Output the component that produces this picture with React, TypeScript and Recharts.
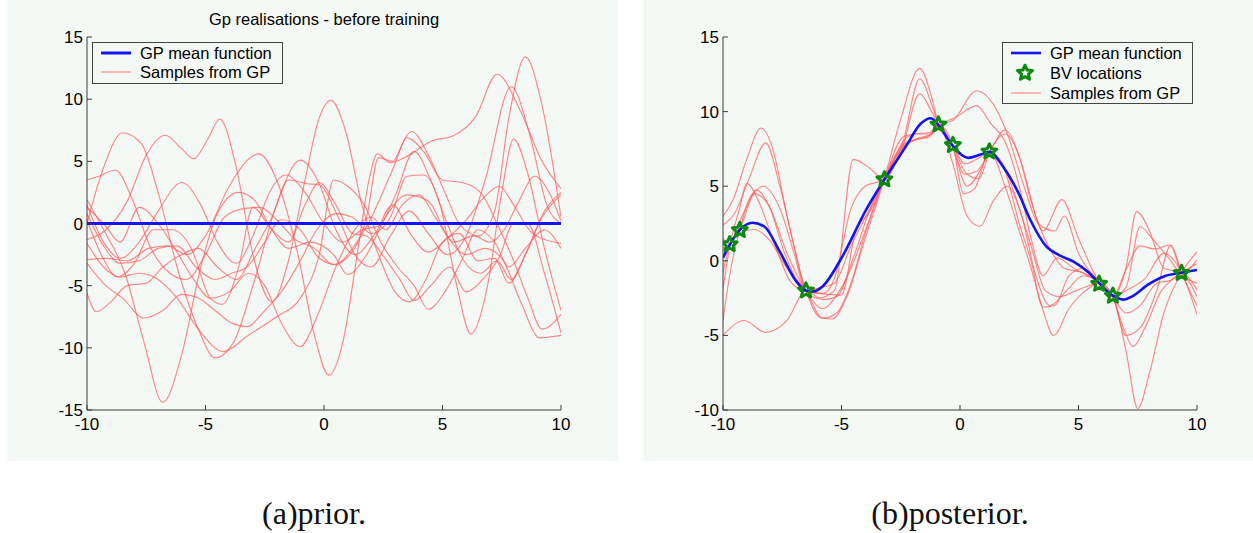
import React from 'react';
import { ComposedChart, Line, Scatter, XAxis, YAxis } from 'recharts';

type P = [number, number];

const X_TICKS = [-10, -5, 0, 5, 10];
const PRIOR_Y_TICKS = [-15, -10, -5, 0, 5, 10, 15];
const POST_Y_TICKS = [-10, -5, 0, 5, 10, 15];
const PRIOR_Y_DOMAIN: [number, number] = [-15, 15];
const POST_Y_DOMAIN: [number, number] = [-10, 15];

const PRIOR_TITLE = 'Gp realisations - before training';
const CAPTION_A = '(a)prior.';
const CAPTION_B = '(b)posterior.';
const LEGEND_MEAN = 'GP mean function';
const LEGEND_BV = 'BV locations';
const LEGEND_SAMPLES = 'Samples from GP';

// ---- prior (left panel) ----
const priorMean: P[] = [[-10, 0], [10, 0]];
const prior01: P[] = [[-10,1.9],[-9.3,-0.5],[-8.4,-4],[-7.6,-9.5],[-6.8,-14.4],[-6.0,-10.5],[-5.2,-3.5],[-4.5,0.8],[-3.6,2.5],[-2.9,1.8],[-2.2,-0.5],[-1.5,-2],[-0.6,-1.5],[0.4,-2.5],[1.0,-4.1],[1.8,-2.5],[2.6,0.5],[3.5,2.3],[4.4,1.8],[5.2,-1.0],[6.0,-2.5],[6.8,-2.0],[7.5,-2.8],[8.3,-6.3],[9.1,-9.2],[10,-9.0]];
const prior02: P[] = [[-10,0],[-9.3,4.5],[-8.5,7.3],[-7.7,6.4],[-7.0,2.5],[-6.2,-3.5],[-5.3,-8.5],[-4.6,-10.8],[-3.8,-9.5],[-3.0,-5],[-2.0,1.5],[-1.0,5.1],[-0.2,3.2],[0.5,-0.5],[1.3,-2.5],[2.1,-1],[2.9,1.5],[3.7,-1],[4.4,-2.3],[5.2,-1.2],[6.0,0.3],[6.8,2.2],[7.4,3.0],[8.0,1.5],[8.8,-0.8],[10,-1.6]];
const prior03: P[] = [[-10,-1.3],[-9.2,-0.5],[-8.3,1.8],[-7.5,5.5],[-6.7,7.1],[-6.0,6.0],[-5.5,5.2],[-4.9,6.8],[-4.4,8.4],[-3.7,4.5],[-3.0,-2.5],[-2.2,-6.3],[-1.5,-3],[-0.8,3.5],[-0.2,8.5],[0.3,9.9],[0.9,7.5],[1.6,1.5],[2.4,-3],[3.0,-5.5],[3.6,-6.3],[4.3,-4.5],[5.0,-1.5],[5.7,-0.8],[6.5,-3],[7.2,-2.8],[7.8,-4.8],[8.5,-2.5],[9.3,1],[10,2.5]];
const prior04: P[] = [[-10,3.5],[-9.5,3.8],[-8.8,4.3],[-8.1,2],[-7.3,-2],[-6.5,-4],[-5.8,-4.5],[-5.0,-2.5],[-4.2,0.5],[-3.4,1.2],[-2.7,1.3],[-2.0,0.3],[-1.2,-1.3],[-0.4,-2],[0.4,-3.3],[1.1,-2.5],[1.8,0.5],[2.3,5.3],[2.9,5.0],[3.5,6.9],[4.2,5.8],[5.0,3.5],[5.8,3.3],[6.6,2.5],[7.3,0],[8.0,-3],[8.6,-6],[9.2,-8.5],[10,-7.3]];
const prior05: P[] = [[-10,-2.9],[-9.2,-2.8],[-8.3,-3],[-7.4,-2],[-6.6,-1.8],[-5.8,-2.5],[-5.0,-1],[-4.0,3.0],[-2.75,5.6],[-1.9,3.0],[-1.1,-2.5],[-0.4,-9],[0.2,-12.2],[0.8,-9.5],[1.4,-2.5],[1.9,3.5],[2.25,5.6],[2.8,4.9],[3.5,5.4],[4.5,6.6],[5.5,7.1],[6.4,8.6],[7.3,12.0],[8.3,9.0],[9.2,5.0],[10,2.8]];
const prior06: P[] = [[-10,0.8],[-9.3,-1.8],[-8.6,-3.2],[-7.8,-3.0],[-7.0,-2.0],[-6.2,-1.8],[-5.4,-3.5],[-4.6,-4.5],[-3.9,-4.0],[-3.25,-3.5],[-2.5,-1.5],[-1.8,0.3],[-1.0,-0.5],[-0.2,-2.8],[0.5,-3.3],[1.2,-2.0],[2.0,0.5],[2.8,3.9],[3.7,7.4],[4.4,5.5],[5.1,2.5],[5.7,0],[6.5,-1],[7.2,1],[7.8,8.5],[8.5,13.4],[9.2,9.5],[10,0.5]];
const prior07: P[] = [[-10,-5.6],[-9.6,-7.1],[-9.0,-6.3],[-8.3,-5.0],[-7.5,-4.8],[-6.8,-3.5],[-6.0,-2.5],[-5.3,-2.0],[-4.5,-3.5],[-3.7,-4.5],[-2.9,-2.0],[-2.2,0.5],[-1.5,3.5],[-0.7,3.2],[-0.2,3.1],[0.6,0.5],[1.3,-2.5],[2.0,-3.5],[2.8,-1.0],[3.6,1.0],[4.4,-0.8],[5.2,-2.5],[6.0,-1.0],[6.8,3.5],[7.9,11.0],[8.7,7.0],[9.4,1.5],[10,0]];
const prior08: P[] = [[-10,-3.2],[-9.2,-5.0],[-8.5,-6.0],[-7.6,-7.6],[-6.8,-7.0],[-6.0,-5.7],[-5.3,-6.0],[-4.6,-7.0],[-3.9,-8.0],[-3.25,-8.3],[-2.5,-7.0],[-1.8,-5.5],[-1.0,-3.0],[-0.3,-0.5],[0.5,0.8],[1.2,0.5],[2.0,-0.8],[2.8,0.5],[3.5,3.8],[4.2,3.9],[4.9,1.5],[5.6,-5],[6.2,-8.9],[6.9,-5],[7.5,2.5],[8.0,6.8],[8.6,4],[9.3,-2],[10,-7.0]];
const prior09: P[] = [[-10,1.3],[-9.3,0],[-8.6,-1.5],[-7.8,1.3],[-7.0,0],[-6.3,-2],[-5.5,-4.5],[-4.8,-6],[-4.0,-5.5],[-3.2,-4.0],[-2.5,-5],[-1.8,-8],[-1.0,-9.9],[-0.3,-7.5],[0.5,-3.5],[1.3,-0.5],[2.0,0.5],[2.6,-0.5],[3.3,1.5],[4.0,2.3],[4.7,0.5],[5.5,-1.5],[6.3,-1.0],[7.0,-1.5],[7.6,-0.5],[8.2,1.7],[8.9,3.8],[9.5,2.5],[10,0.2]];
const prior10: P[] = [[-10,-1.6],[-9.3,-3.5],[-8.6,-4.3],[-7.8,-4.0],[-7.0,-4.5],[-6.2,-6.0],[-5.3,-8.5],[-4.25,-10.3],[-3.2,-9.0],[-2.0,-7.5],[-1.0,-6.0],[-0.2,-2.5],[0.4,3.5],[1.0,3.0],[1.7,1.5],[2.4,-1.5],[3.1,-3.5],[3.8,-5],[4.4,-6.9],[5.1,-5.5],[5.8,-3.0],[6.5,-0.5],[7.2,-1.5],[7.8,-3.5],[8.5,-2.0],[9.3,-0.5],[10,-2.0]];
const prior11: P[] = [[-10,1.5],[-9.3,-1.5],[-8.6,-2.8],[-7.8,-1.5],[-7.0,1.0],[-6.0,3.3],[-5.2,1.5],[-4.5,-1.5],[-3.7,-3.2],[-3.0,-1.0],[-2.3,2.5],[-1.6,3.9],[-0.8,2.5],[0,0],[0.8,-1.5],[1.6,-0.5],[2.3,-0.2],[3.0,2.2],[3.8,5.8],[4.5,3.5],[5.2,0],[5.9,-3.0],[6.6,-4.0],[7.3,-3.0],[7.9,-4.5],[8.5,-2.5],[9.2,0.5],[10,2.3]];
const prior12: P[] = [[-10,0.3],[-9.4,-2.5],[-8.7,-4.3],[-8.0,-3.2],[-7.2,-0.5],[-6.4,-0.5],[-5.6,-2],[-4.8,-6.0],[-4.3,-6.5],[-3.6,-3.5],[-3.0,1.3],[-2.2,-0.5],[-1.5,-1.5],[-0.8,1.5],[-0.2,3.3],[0.5,1.5],[1.2,-0.8],[1.8,-1.0],[2.5,-2.6],[3.2,-4.5],[3.8,-6.2],[4.5,-5],[5.3,-3.5],[6.0,-5.5],[6.7,-4.5],[7.4,-2.7],[8.0,0],[8.6,0],[9.3,-4],[10,-8.8]];

// ---- posterior (right panel) ----
const postMean: P[] = [[-10,0.2],[-9.72,1.07],[-9.29,2.07],[-8.76,2.55],[-8.26,2.3],[-7.6,0.6],[-6.94,-1.3],[-6.5,-2.0],[-6.2,-2.05],[-5.79,-1.7],[-4.96,0.3],[-3.97,3.4],[-3.19,5.45],[-2.31,7.6],[-1.65,9.2],[-1.24,9.55],[-0.91,9.1],[-0.33,7.75],[0.35,6.9],[0.83,7.1],[1.24,7.3],[1.82,6.3],[2.48,4.5],[2.98,2.7],[3.64,0.96],[4.22,0.35],[4.79,-0.05],[5.45,-0.82],[5.87,-1.5],[6.45,-2.34],[6.89,-2.6],[7.27,-2.38],[7.93,-1.6],[8.6,-1.05],[9.34,-0.8],[10,-0.62]];
const bvLocations: P[] = [[-9.72,1.1],[-9.29,2.05],[-6.5,-2.0],[-3.19,5.45],[-0.91,9.12],[-0.3,7.75],[1.24,7.32],[5.87,-1.55],[6.45,-2.35],[9.35,-0.82]];
const post01: P[] = [[-10,-5.0],[-9.1,-4.0],[-8.2,-4.8],[-7.3,-4.0],[-6.5,-2.0],[-5.8,-2.6],[-5.2,-2.4],[-4.5,0.2],[-3.9,3.0],[-3.2,5.45],[-2.4,7.6],[-1.9,8.1],[-1.3,8.3],[-0.9,9.1],[-0.3,7.7],[0.15,4.5],[0.6,4.8],[1.25,7.3],[1.9,5.0],[2.5,2.0],[3.0,-0.5],[3.5,-3.3],[3.95,-5.0],[4.6,-3.2],[5.3,-2.0],[5.9,-1.5],[6.45,-2.4],[6.9,-4.5],[7.3,-5.75],[7.8,-4.5],[8.5,-2.0],[9.0,-1.2],[9.35,-0.8],[10,-1.95]];
const post02: P[] = [[-10,3.0],[-9.6,4.0],[-9.0,6.8],[-8.4,8.9],[-7.9,7.5],[-7.3,3.0],[-6.5,-2.0],[-5.9,-3.8],[-5.4,-3.9],[-4.8,-2.5],[-4.0,1.5],[-3.2,5.45],[-2.5,9.5],[-1.7,12.9],[-1.2,11.0],[-0.9,9.1],[-0.3,7.8],[0.2,6.5],[0.7,6.8],[1.25,7.3],[1.8,6.5],[2.3,4.5],[3.0,1.0],[3.6,-2.0],[4.2,-2.4],[4.9,-2.0],[5.9,-1.5],[6.45,-2.4],[7.0,-6],[7.5,-9.9],[8.0,-7.5],[8.6,-3.5],[9.35,-0.8],[10,0.6]];
const post03: P[] = [[-10,2.4],[-9.5,3.2],[-8.9,5.5],[-8.2,7.9],[-7.6,5],[-7.0,1],[-6.5,-2.0],[-6.0,-2.5],[-5.3,-2.0],[-4.5,6.8],[-3.8,6.2],[-3.2,5.45],[-2.4,8.0],[-1.7,12.2],[-1.2,10.5],[-0.9,9.1],[-0.3,7.7],[0.3,5.8],[0.8,5.5],[1.25,7.3],[1.9,8.5],[2.5,7],[3.0,4],[3.5,2.0],[4.3,4.1],[5.0,1.5],[5.9,-1.5],[6.45,-2.4],[7.0,-2.0],[7.8,-1.2],[8.6,0.5],[9.35,-0.8],[10,-3.6]];
const post04: P[] = [[-10,-1.9],[-9.7,1.1],[-9.3,3.5],[-9.0,5.2],[-8.5,4.0],[-7.8,1.0],[-7.1,-1.5],[-6.5,-2.0],[-5.9,-1.8],[-5.3,-1.5],[-4.6,1.0],[-3.9,3.2],[-3.2,5.45],[-2.5,7.2],[-1.7,11.2],[-1.2,10.0],[-0.9,9.1],[-0.3,7.6],[0.2,5.8],[0.7,6.0],[1.25,7.3],[1.9,8.77],[2.6,6.5],[3.2,3.0],[3.9,0.5],[4.4,-0.5],[5.2,-0.8],[5.9,-1.5],[6.45,-2.4],[7.0,-0.5],[7.45,3.3],[8.0,2.0],[8.6,-0.5],[9.35,-0.8],[10,-2.4]];
const post05: P[] = [[-10,0.2],[-9.7,1.1],[-9.2,2.5],[-8.6,4.75],[-8.0,3.5],[-7.3,0.5],[-6.5,-2.0],[-5.8,-3.2],[-5.2,-2.3],[-4.6,-0.5],[-4.0,2.0],[-3.2,5.45],[-2.4,8.3],[-1.9,8.5],[-1.3,8.6],[-0.9,9.1],[-0.2,9.6],[0.7,10.4],[1.3,9.2],[1.9,8.0],[2.5,5],[3.0,1.5],[3.5,-1.0],[4.1,0.2],[4.8,-0.5],[5.9,-1.5],[6.45,-2.4],[7.0,-1.8],[7.6,2.3],[8.1,1.5],[8.8,0.2],[9.35,-0.8],[10,0.06]];
const post06: P[] = [[-10,1.5],[-9.7,1.1],[-9.2,3.0],[-8.3,5.0],[-7.6,3.5],[-7.0,0.5],[-6.5,-2.0],[-5.8,-2.2],[-5.3,-1.2],[-4.6,3.5],[-4.0,5.0],[-3.2,5.45],[-2.4,8.0],[-1.9,8.5],[-1.3,8.5],[-0.9,9.1],[-0.3,9.4],[0.7,11.4],[1.4,10.5],[2.0,8.5],[2.7,5.0],[3.3,2.5],[4.0,2.0],[4.4,3.0],[5.0,0.5],[5.9,-1.5],[6.45,-2.4],[7.0,-5.0],[7.6,-4.5],[8.3,-2.0],[8.9,1.06],[9.35,-0.8],[10,-3.0]];
const post07: P[] = [[-10,-0.8],[-9.7,1.1],[-9.2,1.9],[-8.7,2.1],[-8.1,1.5],[-7.3,-0.5],[-6.5,-2.0],[-5.8,-3.85],[-5.2,-3.5],[-4.6,-1.5],[-4.0,1.8],[-3.2,5.45],[-2.4,7.8],[-1.9,8.1],[-1.3,8.4],[-0.9,9.1],[-0.3,6.5],[0.3,3.0],[0.84,2.3],[1.4,4.0],[2.0,5.0],[2.6,3.0],[3.2,-1.0],[3.8,-3.0],[4.5,-2.0],[5.2,-1.0],[5.9,-1.5],[6.45,-2.4],[7.0,-3.5],[7.6,-3.0],[8.3,-1.5],[8.9,-1.3],[9.35,-0.8],[10,-0.2]];
const post08: P[] = [[-10,-4.0],[-9.7,-0.8],[-9.3,2.05],[-8.7,4.5],[-8.1,3.8],[-7.4,0.5],[-6.5,-2.0],[-5.8,-2.2],[-5.0,-2.3],[-4.4,2.0],[-3.8,3.3],[-3.2,5.45],[-2.5,7.5],[-1.8,8.2],[-1.2,8.5],[-0.9,9.1],[-0.35,7.8],[0.3,5.0],[0.9,6.2],[1.25,7.3],[1.9,6.0],[2.5,2.5],[3.0,0],[3.5,-3.1],[4.0,-3.0],[4.6,-1.0],[5.2,-0.5],[5.9,-1.5],[6.45,-2.4],[7.0,-0.6],[7.6,1.0],[8.2,0.8],[8.86,1.06],[9.35,-0.8],[10,-1.5]];

const PRIOR_SAMPLES = [prior01, prior02, prior03, prior04, prior05, prior06, prior07, prior08, prior09, prior10, prior11, prior12];
const POST_SAMPLES = [post01, post02, post03, post04, post05, post06, post07, post08];

const toPts = (a: P[]) => a.map(([x, y]) => ({ x, y }));

const BG = '#f5f9f6';
const AX = '#3c3c3c';
const RED = '#ff5c5c';
const BLUE = '#1414f0';
const GREEN = '#0c8a0c';
const SANS = '"Liberation Sans", Arial, Helvetica, sans-serif';
const SERIF = '"Liberation Serif", "Times New Roman", serif';
const FS = 17;

const BottomTick = (p: any) => (
  <g>
    <line x1={p.x} y1={p.y} x2={p.x} y2={p.y - 5} stroke={AX} />
    <text x={p.x} y={p.y + 20} textAnchor="middle" fontSize={FS} fontFamily={SANS} fill="#000">{p.payload.value}</text>
  </g>
);
const LeftTick = (p: any) => (
  <g>
    <line x1={p.x} y1={p.y} x2={p.x + 5} y2={p.y} stroke={AX} />
    <text x={p.x - 4} y={p.y + 6} textAnchor="end" fontSize={FS} fontFamily={SANS} fill="#000">{p.payload.value}</text>
  </g>
);
const TopTick = (p: any) => <line x1={p.x} y1={p.y} x2={p.x} y2={p.y + 5} stroke={AX} />;
const RightTick = (p: any) => <line x1={p.x} y1={p.y} x2={p.x - 5} y2={p.y} stroke={AX} />;

const starPoints = (cx: number, cy: number, ro: number, ri: number) => {
  const pts: string[] = [];
  for (let i = 0; i < 10; i++) {
    const r = i % 2 === 0 ? ro : ri;
    const a = (-90 + i * 36) * Math.PI / 180;
    pts.push(`${cx + r * Math.cos(a)},${cy + r * Math.sin(a)}`);
  }
  return pts.join(' ');
};
const StarShape = (p: any) => (
  <polygon points={starPoints(p.cx, p.cy, 7.8, 3.6)} fill="none" stroke={GREEN} strokeWidth={3} strokeLinejoin="round" />
);

function Panel(props: { samples: P[][]; mean: P[]; bv?: P[]; yDomain: [number, number]; yTicks: number[]; meanWidth: number }) {
  const { samples, mean, bv, yDomain, yTicks, meanWidth } = props;
  return (
    <ComposedChart width={611} height={461} margin={{ top: 37, right: 57, bottom: 0, left: 0 }}>
      <XAxis dataKey="x" type="number" domain={[-10, 10]} ticks={X_TICKS} interval={0} allowDataOverflow height={51}
        tickLine={false} tickSize={0} tickMargin={0} axisLine={{ stroke: AX }} tick={(p: any) => <BottomTick {...p} />} />
      <XAxis xAxisId="top" orientation="top" dataKey="x" type="number" domain={[-10, 10]} ticks={X_TICKS} interval={0} allowDataOverflow height={0}
        tickLine={false} tickSize={0} tickMargin={0} axisLine={{ stroke: AX }} tick={(p: any) => <TopTick {...p} />} />
      <YAxis dataKey="y" type="number" domain={yDomain} ticks={yTicks} interval={0} allowDataOverflow width={80}
        tickLine={false} tickSize={0} tickMargin={0} axisLine={{ stroke: AX }} tick={(p: any) => <LeftTick {...p} />} />
      <YAxis yAxisId="right" orientation="right" dataKey="y" type="number" domain={yDomain} ticks={yTicks} interval={0} allowDataOverflow width={0}
        tickLine={false} tickSize={0} tickMargin={0} axisLine={{ stroke: AX }} tick={(p: any) => <RightTick {...p} />} />
      {samples.map((s, i) => (
        <Line key={i} data={toPts(s)} dataKey="y" type="monotone" dot={false} activeDot={false}
          stroke={RED} strokeOpacity={0.72} strokeWidth={1.15} isAnimationActive={false} />
      ))}
      <Line data={toPts(mean)} dataKey="y" type="monotone" dot={false} activeDot={false}
        stroke={BLUE} strokeWidth={meanWidth} isAnimationActive={false} />
      {bv && <Scatter data={toPts(bv)} dataKey="y" shape={(p: any) => <StarShape {...p} />} isAnimationActive={false} />}
    </ComposedChart>
  );
}

export default function App() {
  return (
    <div style={{ position: 'absolute', left: 0, top: 0, width: 1253, height: 533, background: '#fff', overflow: 'hidden' }}>
      <div style={{ position: 'absolute', left: 7, top: 0, width: 611, height: 461, background: BG }}>
        <Panel samples={PRIOR_SAMPLES} mean={priorMean} yDomain={PRIOR_Y_DOMAIN} yTicks={PRIOR_Y_TICKS} meanWidth={3} />
      </div>
      <div style={{ position: 'absolute', left: 643, top: 0, width: 611, height: 461, background: BG }}>
        <Panel samples={POST_SAMPLES} mean={postMean} bv={bvLocations} yDomain={POST_Y_DOMAIN} yTicks={POST_Y_TICKS} meanWidth={2.6} />
      </div>
      <svg width={1253} height={533} style={{ position: 'absolute', left: 0, top: 0, pointerEvents: 'none' }}>
        <text x={324} y={25} textAnchor="middle" fontSize={16.5} fontFamily={SANS} fill="#000">{PRIOR_TITLE}</text>
        {/* left legend */}
        <rect x={92.5} y={42.5} width={190} height={41} fill={BG} stroke="#444" />
        <line x1={101} y1={53} x2={131} y2={53} stroke={BLUE} strokeWidth={3} />
        <text x={140} y={59} fontSize={16.5} fontFamily={SANS} fill="#000">{LEGEND_MEAN}</text>
        <line x1={101} y1={72} x2={131} y2={72} stroke={RED} strokeOpacity={0.72} strokeWidth={1.15} />
        <text x={140} y={78} fontSize={16.5} fontFamily={SANS} fill="#000">{LEGEND_SAMPLES}</text>
        {/* right legend */}
        <rect x={1002.5} y={42.5} width={190} height={61} fill={BG} stroke="#444" />
        <line x1={1011} y1={53} x2={1041} y2={53} stroke={BLUE} strokeWidth={2.6} />
        <text x={1050} y={59} fontSize={16.5} fontFamily={SANS} fill="#000">{LEGEND_MEAN}</text>
        <StarShape cx={1025} cy={73} />
        <text x={1050} y={79} fontSize={16.5} fontFamily={SANS} fill="#000">{LEGEND_BV}</text>
        <line x1={1011} y1={93} x2={1041} y2={93} stroke={RED} strokeOpacity={0.72} strokeWidth={1.15} />
        <text x={1050} y={99} fontSize={16.5} fontFamily={SANS} fill="#000">{LEGEND_SAMPLES}</text>
        {/* captions */}
        <text x={314} y={524} textAnchor="middle" fontSize={32} fontFamily={SERIF} fill="#111">{CAPTION_A}</text>
        <text x={950} y={524} textAnchor="middle" fontSize={32} fontFamily={SERIF} fill="#111">{CAPTION_B}</text>
      </svg>
    </div>
  );
}
